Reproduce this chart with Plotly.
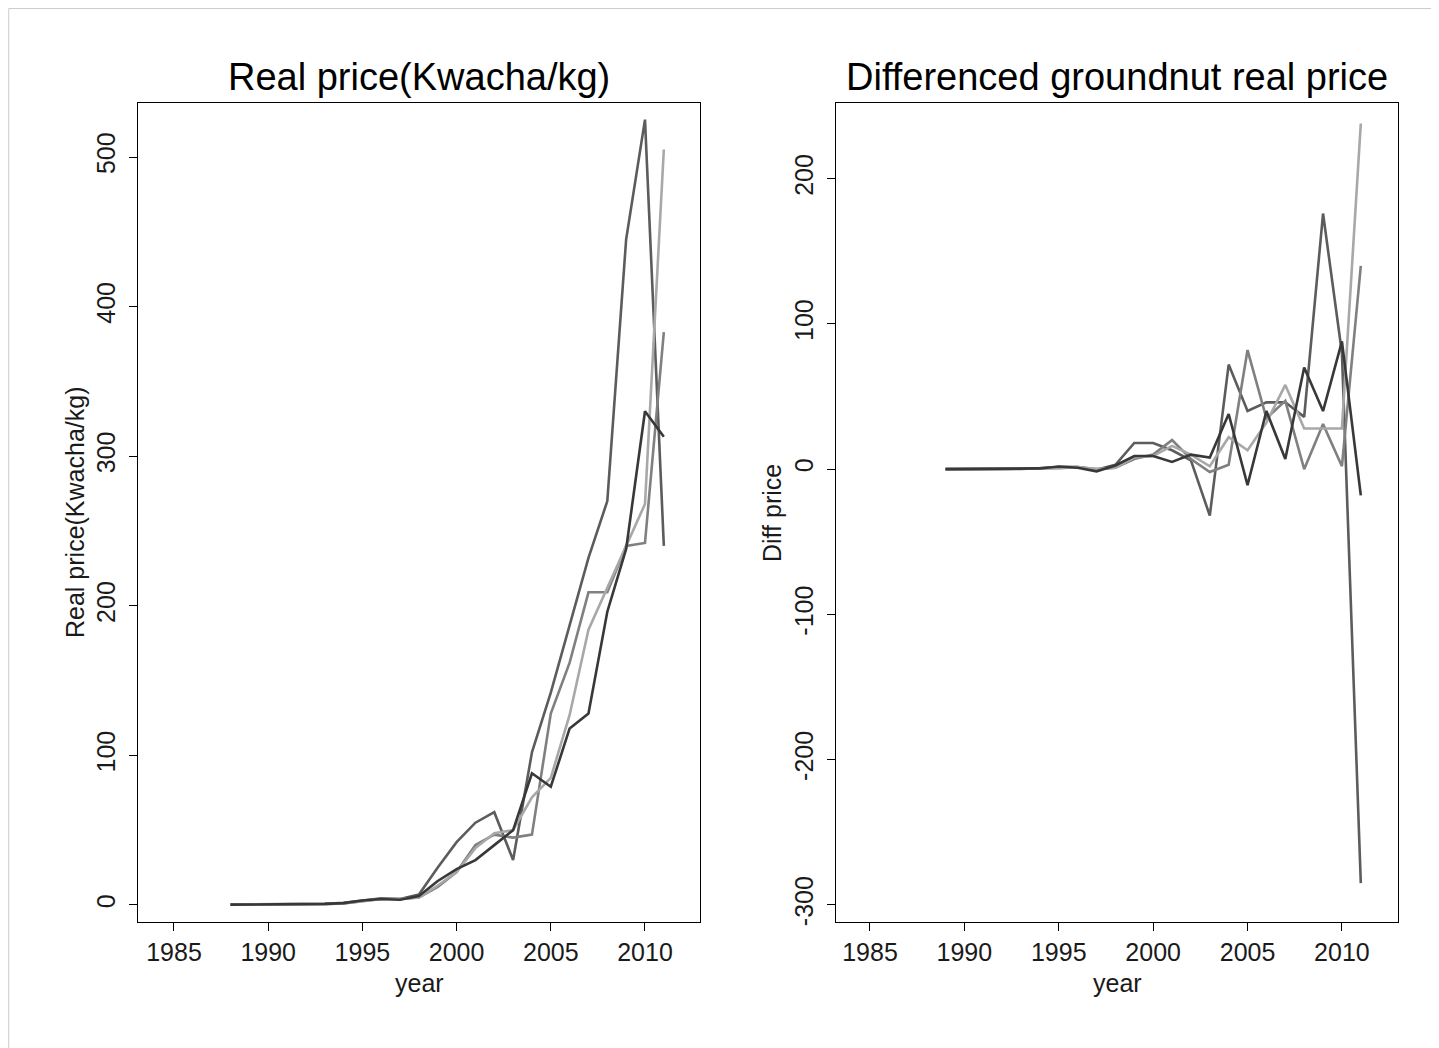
import plotly.graph_objects as go

# page body adds an 8px offset; figure is sized so that it fits in the window
OFF = 8
W, H = 1439 - OFF, 1048 - OFF

# ---------------- data ----------------
years_level = list(range(1988, 2012))
years_diff = list(range(1989, 2012))

# real price levels (Kwacha/kg), four markets
price_a = [0.3, 0.3, 0.4, 0.5, 0.6, 0.8, 1.5, 3.0, 4.5, 4.0, 7.0, 25, 42, 55, 62, 30, 102, 142, 187, 232, 270, 445, 525, 240]
price_b = [0.2, 0.2, 0.3, 0.4, 0.5, 0.7, 1.2, 3.0, 4.0, 3.5, 6.0, 16, 24, 30, 40, 50, 88, 79, 118, 128, 196, 238, 330, 313]
price_c = [0.2, 0.2, 0.3, 0.3, 0.4, 0.6, 1.0, 2.5, 4.0, 4.0, 5.0, 12, 22, 40, 47, 45, 47, 128, 162, 209, 209, 240, 242, 383]
price_d = [0.2, 0.2, 0.3, 0.3, 0.4, 0.5, 1.0, 2.5, 4.0, 4.0, 5.0, 13, 22, 38, 48, 50, 72, 85, 127, 184, 212, 240, 268, 505]

# differenced real price
diff_a = [0, 0, 0, 0, 0.2, 0.7, 1.5, 1.5, -0.5, 3, 18, 18, 13, 6, -32, 72, 40, 46, 46, 36, 176, 80, -285]
diff_b = [0, 0, 0, 0, 0.2, 0.5, 1.8, 1.0, -1.5, 2.5, 9, 9, 5, 10, 8, 38, -11, 40, 7, 70, 40, 88, -18]
diff_c = [0, 0, 0, 0, 0.1, 0.4, 1.5, 1.5, 0, 1, 7, 10, 20, 7, -2, 3, 82, 35, 47, 0, 31, 2, 140]
diff_d = [0, 0, 0, 0, 0.1, 0.2, 0.5, 1.5, 0, 1, 8, 9, 16, 10, 2, 22, 13, 32, 58, 28, 28, 28, 238]

x_ticks = [1985, 1990, 1995, 2000, 2005, 2010]
y1_ticks = [0, 100, 200, 300, 400, 500]
y2_ticks = [-300, -200, -100, 0, 100, 200]
y2_ticktext = ["-300", "-200", "-100", "0", "100", "200"]

title_left = "Real price(Kwacha/kg)"
title_right = "Differenced groundnut real price"
ylab_left = "Real price(Kwacha/kg)"
ylab_right = "Diff price"
xlab = "year"

# ---------------- styling ----------------
colors = {"a": "#5c5c5c", "b": "#383838", "c": "#808080", "d": "#a8a8a8"}
LW = 2.6
FONT = "Liberation Sans, Arial, sans-serif"

fig = go.Figure()

level_series = [("a", price_a), ("c", price_c), ("d", price_d), ("b", price_b)]
diff_series = [("a", diff_a), ("c", diff_c), ("d", diff_d), ("b", diff_b)]

for key, vals in level_series:
    fig.add_trace(go.Scatter(x=years_level, y=vals, mode="lines",
                             line=dict(color=colors[key], width=LW),
                             xaxis="x", yaxis="y", showlegend=False, hoverinfo="skip"))
for key, vals in diff_series:
    fig.add_trace(go.Scatter(x=years_diff, y=vals, mode="lines",
                             line=dict(color=colors[key], width=LW),
                             xaxis="x2", yaxis="y2", showlegend=False, hoverinfo="skip"))


def px_x(p):
    return (p - OFF) / W


def px_y(p):
    return 1 - (p - OFF) / H


axis_common = dict(showline=True, linecolor="black", linewidth=1.4, mirror=True,
                   ticks="outside", ticklen=8, tickwidth=1.4, tickcolor="black",
                   showgrid=False, zeroline=False,
                   tickfont=dict(family=FONT, size=25, color="#1a1a1a"))

y_dom = [px_y(922), px_y(103)]

fig.update_layout(
    width=W, height=H,
    margin=dict(l=0, r=0, t=0, b=0, autoexpand=False),
    paper_bgcolor="white", plot_bgcolor="white",
    xaxis=dict(domain=[px_x(138), px_x(700)], range=[1983.09, 2012.92], anchor="y",
               tickvals=x_ticks, ticklabelstandoff=0, **axis_common),
    yaxis=dict(domain=y_dom, range=[-11.4, 536.1], anchor="x",
               tickvals=y1_ticks, tickangle=-90, ticklabelstandoff=4, **axis_common),
    xaxis2=dict(domain=[px_x(836), px_x(1398)], range=[1983.20, 2012.97], anchor="y2",
                tickvals=x_ticks, ticklabelstandoff=0, **axis_common),
    yaxis2=dict(domain=y_dom, range=[-311.8, 252.1], anchor="x2",
                tickvals=y2_ticks, ticktext=y2_ticktext, tickangle=-90,
                ticklabelstandoff=4, **axis_common),
)

ann = []
ann.append(dict(text=title_left, x=px_x(419), y=px_y(77), xref="paper", yref="paper",
                showarrow=False, xanchor="center", yanchor="middle",
                font=dict(family=FONT, size=38, color="black")))
ann.append(dict(text=title_right, x=px_x(1117), y=px_y(77), xref="paper", yref="paper",
                showarrow=False, xanchor="center", yanchor="middle",
                font=dict(family=FONT, size=38, color="black")))
for cx in (419, 1117):
    ann.append(dict(text=xlab, x=px_x(cx), y=px_y(983), xref="paper", yref="paper",
                    showarrow=False, xanchor="center", yanchor="middle",
                    font=dict(family=FONT, size=25, color="#1a1a1a")))
ann.append(dict(text=ylab_left, x=px_x(75), y=px_y(512), xref="paper", yref="paper",
                showarrow=False, xanchor="center", yanchor="middle", textangle=-90,
                font=dict(family=FONT, size=25, color="#1a1a1a")))
ann.append(dict(text=ylab_right, x=px_x(772), y=px_y(513), xref="paper", yref="paper",
                showarrow=False, xanchor="center", yanchor="middle", textangle=-90,
                font=dict(family=FONT, size=25, color="#1a1a1a")))
fig.update_layout(annotations=ann)

# thin outer frame of the original graphic (top and left edges)
fig.update_layout(shapes=[
    dict(type="line", xref="paper", yref="paper", x0=0.0005, x1=1, y0=0.9995, y1=0.9995,
         line=dict(color="#cccccc", width=1)),
    dict(type="line", xref="paper", yref="paper", x0=0.0005, x1=0.0005, y0=0.9995, y1=0,
         line=dict(color="#cccccc", width=1)),
])

fig.write_html("out.html")
